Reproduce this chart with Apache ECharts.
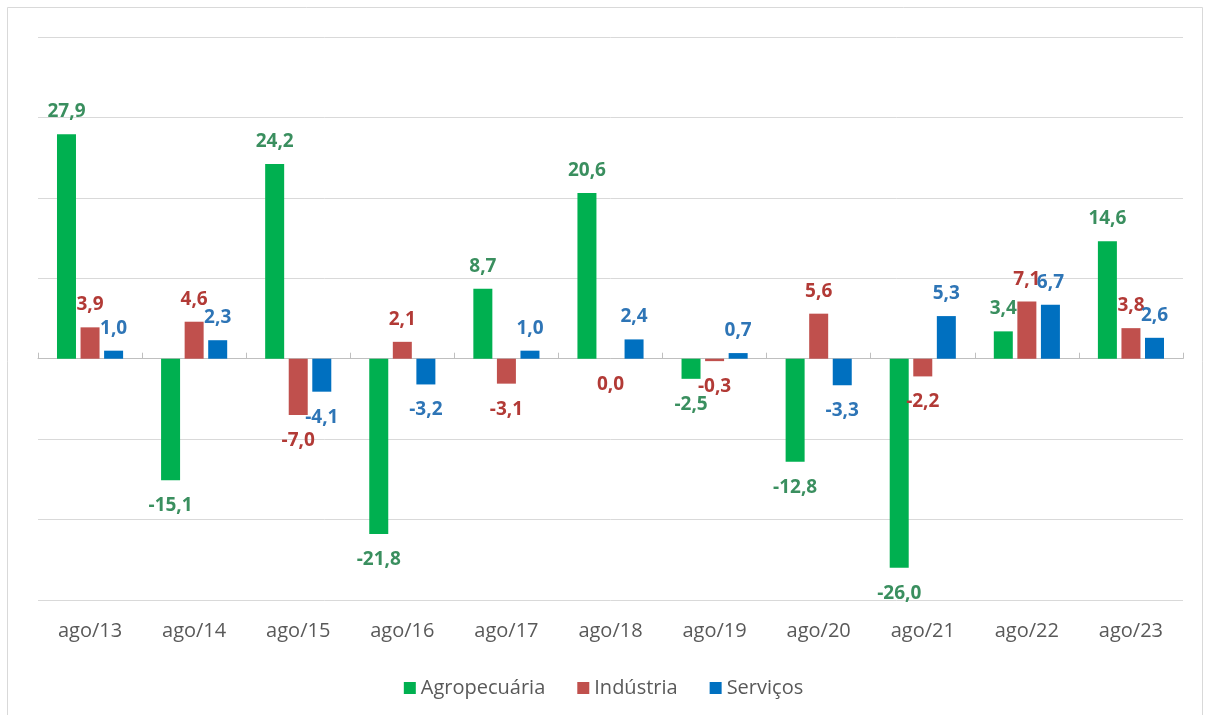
<!DOCTYPE html>
<html>
<head>
<meta charset="utf-8">
<script src="https://cdn.jsdelivr.net/npm/echarts@6/dist/echarts.min.js"></script>
<style>
html,body{margin:0;padding:0;background:#fff;}
#chart{width:1207px;height:715px;}
</style>
</head>
<body>
<div id="chart"></div>
<script>
const categories = ['ago/13','ago/14','ago/15','ago/16','ago/17','ago/18','ago/19','ago/20','ago/21','ago/22','ago/23'];
const agro = [27.9, -15.1, 24.2, -21.8, 8.7, 20.6, -2.5, -12.8, -26.0, 3.4, 14.6];
const industria = [3.9, 4.6, -7.0, 2.1, -3.1, 0.0, -0.3, 5.6, -2.2, 7.1, 3.8];
const servicos = [1.0, 2.3, -4.1, -3.2, 1.0, 2.4, 0.7, -3.3, 5.3, 6.7, 2.6];
const seriesNames = ['Agropecuária', 'Indústria', 'Serviços'];

const FONT = '"Open Sans", "Noto Sans", sans-serif';
function fmt(v){ return v.toFixed(1).replace('.', ','); }
function build(arr){
  return arr.map(v => ({
    value: v,
    label: {
      position: v > 0 ? 'top' : 'bottom',
      distance: v > 0 ? 13 : 16
    }
  }));
}
function mkSeries(name, arr, color, labelColor){
  return {
    name: name,
    type: 'bar',
    xAxisIndex: 0,
    barWidth: 19,
    barGap: '24%',
    itemStyle: {color: color},
    label: {
      show: true,
      color: labelColor,
      fontFamily: FONT,
      fontWeight: 'bold',
      fontSize: 19,
      formatter: p => fmt(p.value)
    },
    data: build(arr)
  };
}

const chart = echarts.init(document.getElementById('chart'));
chart.setOption({
  animation: false,
  backgroundColor: '#fff',
  graphic: [{
    type: 'rect',
    shape: {x: 7.5, y: 7.5, width: 1195, height: 720},
    style: {fill: 'none', stroke: '#D9D9D9', lineWidth: 1},
    silent: true
  }],
  grid: {left: 38, right: 24, top: 37, bottom: 115},
  legend: {
    top: 673,
    left: 'center',
    icon: 'rect',
    itemWidth: 12,
    itemHeight: 12,
    itemGap: 32,
    textStyle: {fontFamily: FONT, fontSize: 20, color: '#595959'},
    data: seriesNames
  },
  xAxis: [{
    type: 'category',
    data: categories,
    position: 'bottom',
    axisLine: {show: false, onZero: false},
    axisTick: {show: false},
    axisLabel: {color: '#595959', fontFamily: FONT, fontSize: 20, margin: 21}
  }, {
    type: 'category',
    data: categories,
    axisLine: {show: true, onZero: true, lineStyle: {color: '#BFBFBF', width: 1}},
    axisTick: {show: true, length: 6, lineStyle: {color: '#BFBFBF'}},
    axisLabel: {show: false},
    splitLine: {show: false}
  }],
  yAxis: {
    type: 'value',
    min: -30, max: 40, interval: 10,
    axisLine: {show: false},
    axisTick: {show: false},
    axisLabel: {show: false},
    splitLine: {lineStyle: {color: '#D9D9D9', width: 1}}
  },
  series: [
    mkSeries(seriesNames[0], agro, '#00B050', '#3A8F5F'),
    mkSeries(seriesNames[1], industria, '#C0504D', '#B23A36'),
    mkSeries(seriesNames[2], servicos, '#0070C0', '#2E75B6')
  ]
});
</script>
</body>
</html>
